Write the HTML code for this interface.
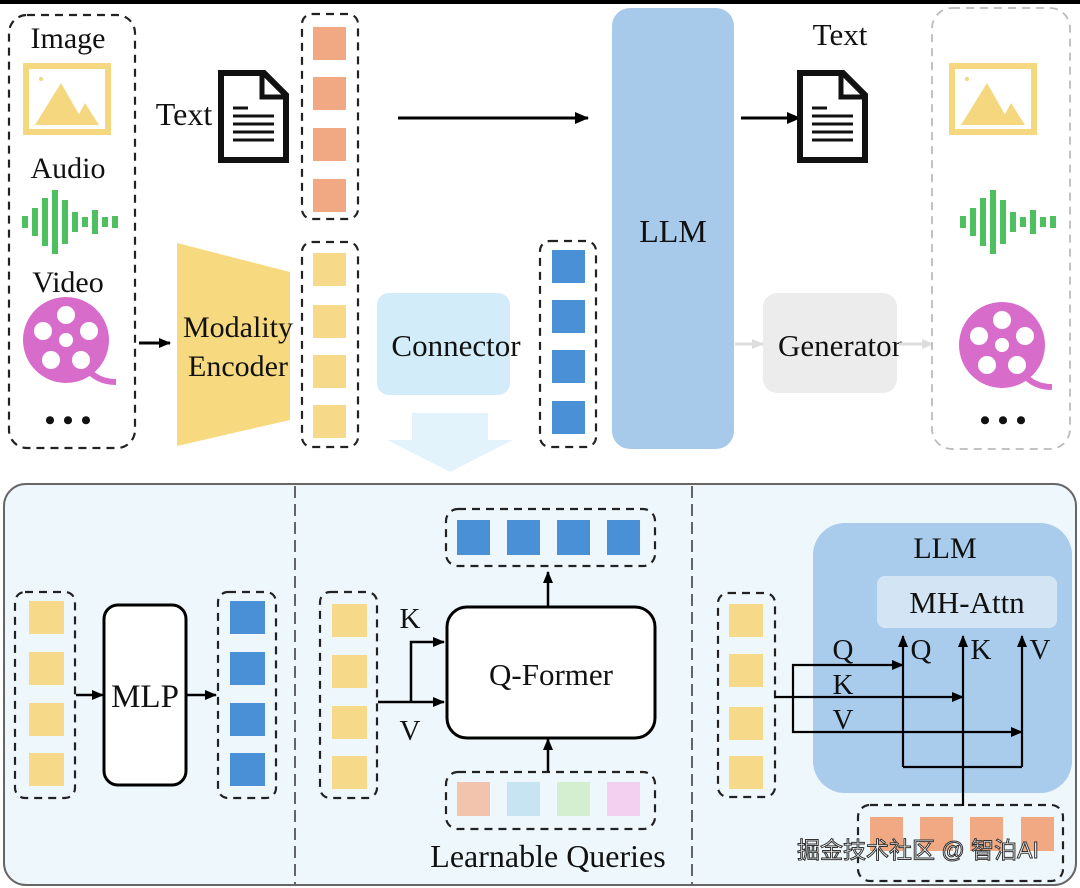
<!DOCTYPE html>
<html><head><meta charset="utf-8"><style>
html,body{margin:0;padding:0;background:#fff;}
svg{display:block;}
text{font-family:"Liberation Serif",serif;fill:#111;}
</style></head><body>
<svg width="1080" height="888" viewBox="0 0 1080 888" xmlns="http://www.w3.org/2000/svg">
<defs>
<marker id="ah" markerWidth="12" markerHeight="10" refX="11" refY="5" orient="auto" markerUnits="userSpaceOnUse"><path d="M0,0 L12,5 L0,10 z" fill="#000"/></marker>
<marker id="ahb" markerWidth="14" markerHeight="12" refX="13" refY="6" orient="auto" markerUnits="userSpaceOnUse"><path d="M0,0 L14,6 L0,12 z" fill="#000"/></marker>
<marker id="ahg" markerWidth="12" markerHeight="10" refX="11" refY="5" orient="auto" markerUnits="userSpaceOnUse"><path d="M0,0 L12,5 L0,10 z" fill="#ddd"/></marker>
<clipPath id="panel"><rect x="4" y="484" width="1072" height="401" rx="22"/></clipPath>
<g id="img"><rect x="3" y="3" width="82" height="66" fill="#fff" stroke="#f4d77e" stroke-width="6"/><path d="M12,62 L38,20 L58,55 L52,62z" fill="#f4d77e"/><path d="M50,62 L62,40 L76,62z" fill="#f4d77e"/><circle cx="18" cy="16" r="2" fill="#f4d77e"/></g>
<g id="wave" fill="#4fc060"><rect x="0" y="26" width="6" height="12"/><rect x="10" y="18" width="6" height="28"/><rect x="20" y="8" width="6" height="48"/><rect x="30" y="0" width="6" height="64"/><rect x="40" y="10" width="6" height="44"/><rect x="50" y="22" width="6" height="20"/><rect x="60" y="27" width="6" height="10"/><rect x="70" y="20" width="6" height="24"/><rect x="80" y="27" width="6" height="10"/><rect x="90" y="26" width="6" height="12"/></g>
<g id="reel"><circle cx="0" cy="0" r="43" fill="#d86ccb"/><circle cx="0" cy="-25" r="9" fill="#fff"/><circle cx="-23" cy="-9" r="9" fill="#fff"/><circle cx="23" cy="-9" r="9" fill="#fff"/><circle cx="-15" cy="20" r="9" fill="#fff"/><circle cx="15" cy="20" r="9" fill="#fff"/><circle cx="0" cy="0" r="7" fill="#fff"/><path d="M25,33 Q35,42 50,42" stroke="#d86ccb" stroke-width="6" fill="none"/></g>
<g id="doc"><path d="M3,3 L46,3 L68,25 L68,90 L3,90 Z" fill="#fff" stroke="#111" stroke-width="6"/><path d="M44,3 L44,27 L68,27" fill="none" stroke="#111" stroke-width="5"/><g stroke="#111" stroke-width="3"><line x1="15" y1="38" x2="30" y2="38"/><line x1="15" y1="46" x2="56" y2="46"/><line x1="15" y1="54" x2="56" y2="54"/><line x1="15" y1="62" x2="56" y2="62"/><line x1="15" y1="70" x2="56" y2="70"/></g></g>
</defs>
<rect x="0" y="0" width="1080" height="4" fill="#000"/>

<rect x="9" y="15" width="126" height="433" rx="18" fill="#fff" stroke="#222" stroke-width="2.2" stroke-dasharray="8,6"/>
<text x="68" y="48" font-size="30" text-anchor="middle">Image</text>
<use href="#img" x="23" y="63"/>
<text x="68" y="178" font-size="30" text-anchor="middle">Audio</text>
<use href="#wave" x="22" y="190"/>
<text x="68" y="292" font-size="30" text-anchor="middle">Video</text>
<use href="#reel" x="66" y="340"/>
<text x="68" y="430" font-size="30" text-anchor="middle" font-weight="bold">• • •</text>

<text x="184" y="125" font-size="32" text-anchor="middle">Text</text>
<use href="#doc" x="218" y="70"/>

<rect x="302" y="14" width="56" height="205" rx="10" fill="#fff" stroke="#222" stroke-width="2.2" stroke-dasharray="8,6"/>
<g fill="#f0a983"><rect x="313" y="27" width="33" height="33"/><rect x="313" y="77" width="33" height="33"/><rect x="313" y="128" width="33" height="33"/><rect x="313" y="179" width="33" height="33"/></g>
<line x1="398" y1="118" x2="588" y2="118" stroke="#000" stroke-width="3" marker-end="url(#ahb)"/>

<line x1="139" y1="343" x2="170" y2="343" stroke="#000" stroke-width="3" marker-end="url(#ah)"/>
<path d="M177,243 L290,272 L290,420 L177,446 Z" fill="#f7d97f"/>
<text x="238" y="337" font-size="30" text-anchor="middle">Modality</text>
<text x="238" y="376" font-size="30" text-anchor="middle">Encoder</text>

<rect x="302" y="242" width="56" height="205" rx="10" fill="#fff" stroke="#222" stroke-width="2.2" stroke-dasharray="8,6"/>
<g fill="#f7d98a"><rect x="313" y="253" width="33" height="33"/><rect x="313" y="305" width="33" height="33"/><rect x="313" y="355" width="33" height="33"/><rect x="313" y="405" width="33" height="33"/></g>

<rect x="377" y="293" width="133" height="102" rx="12" fill="#d2ecf9"/>
<text x="456" y="356" font-size="31" text-anchor="middle">Connector</text>
<path d="M412,413 L488,413 L488,440 L513,440 L450,472 L387,440 L412,440 Z" fill="#e3f3fb"/>

<rect x="540" y="241" width="56" height="206" rx="10" fill="#fff" stroke="#222" stroke-width="2.2" stroke-dasharray="8,6"/>
<g fill="#4a90d6"><rect x="552" y="250" width="33" height="33"/><rect x="552" y="300" width="33" height="33"/><rect x="552" y="350" width="33" height="33"/><rect x="552" y="401" width="33" height="33"/></g>

<rect x="612" y="8" width="122" height="441" rx="18" fill="#a8caea"/>
<text x="673" y="242" font-size="32" text-anchor="middle">LLM</text>

<line x1="741" y1="118" x2="800" y2="118" stroke="#000" stroke-width="3" marker-end="url(#ahb)"/>
<text x="840" y="45" font-size="31" text-anchor="middle">Text</text>
<use href="#doc" x="797" y="70"/>

<line x1="735" y1="344" x2="763" y2="344" stroke="#ddd" stroke-width="3" marker-end="url(#ahg)"/>
<rect x="763" y="293" width="134" height="100" rx="14" fill="#ececec"/>
<text x="840" y="356" font-size="31" text-anchor="middle">Generator</text>
<line x1="899" y1="344" x2="933" y2="344" stroke="#ddd" stroke-width="3" marker-end="url(#ahg)"/>

<rect x="932" y="8" width="138" height="441" rx="20" fill="#fff" stroke="#bbb" stroke-width="1.8" stroke-dasharray="8,6"/>
<use href="#img" x="949" y="63"/>
<use href="#wave" x="960" y="190"/>
<use href="#reel" x="1002" y="345"/>
<text x="1003" y="430" font-size="30" text-anchor="middle" font-weight="bold">• • •</text>

<rect x="4" y="484" width="1072" height="401" rx="22" fill="#eef8fc" stroke="#666" stroke-width="2"/>
<line x1="295" y1="486" x2="295" y2="884" stroke="#333" stroke-width="1.5" stroke-dasharray="12,6"/>
<line x1="692" y1="486" x2="692" y2="884" stroke="#333" stroke-width="1.5" stroke-dasharray="12,6"/>

<rect x="15" y="592" width="60" height="206" rx="10" fill="none" stroke="#222" stroke-width="2.2" stroke-dasharray="8,6"/>
<g fill="#f7d98a"><rect x="29" y="601" width="35" height="33"/><rect x="29" y="652" width="35" height="33"/><rect x="29" y="703" width="35" height="33"/><rect x="29" y="753" width="35" height="33"/></g>
<line x1="76" y1="695" x2="103" y2="695" stroke="#000" stroke-width="2.5" marker-end="url(#ah)"/>
<rect x="104" y="605" width="82" height="180" rx="14" fill="#fff" stroke="#000" stroke-width="3"/>
<text x="145" y="707" font-size="33" text-anchor="middle">MLP</text>
<line x1="187" y1="695" x2="216" y2="695" stroke="#000" stroke-width="2.5" marker-end="url(#ah)"/>
<rect x="218" y="592" width="58" height="206" rx="10" fill="none" stroke="#222" stroke-width="2.2" stroke-dasharray="8,6"/>
<g fill="#4a90d6"><rect x="230" y="601" width="35" height="33"/><rect x="230" y="652" width="35" height="33"/><rect x="230" y="703" width="35" height="33"/><rect x="230" y="753" width="35" height="33"/></g>

<rect x="320" y="592" width="57" height="206" rx="10" fill="none" stroke="#222" stroke-width="2.2" stroke-dasharray="8,6"/>
<g fill="#f7d98a"><rect x="332" y="604" width="35" height="33"/><rect x="332" y="655" width="35" height="33"/><rect x="332" y="706" width="35" height="33"/><rect x="332" y="756" width="35" height="33"/></g>
<polyline points="378,702 444,702" fill="none" stroke="#000" stroke-width="2.5" marker-end="url(#ah)"/>
<polyline points="411,702 411,642 444,642" fill="none" stroke="#000" stroke-width="2.5" marker-end="url(#ah)"/>
<text x="410" y="628" font-size="29" text-anchor="middle">K</text>
<text x="410" y="740" font-size="29" text-anchor="middle">V</text>
<rect x="447" y="607" width="208" height="131" rx="20" fill="#fff" stroke="#000" stroke-width="3"/>
<text x="551" y="685" font-size="31" text-anchor="middle">Q-Former</text>
<line x1="548" y1="606" x2="548" y2="572" stroke="#000" stroke-width="2.5" marker-end="url(#ah)"/>
<rect x="446" y="509" width="209" height="57" rx="12" fill="none" stroke="#222" stroke-width="2.2" stroke-dasharray="8,6"/>
<g fill="#4a90d6"><rect x="457" y="520" width="33" height="35"/><rect x="507" y="520" width="33" height="35"/><rect x="557" y="520" width="33" height="35"/><rect x="607" y="520" width="33" height="35"/></g>
<line x1="548" y1="772" x2="548" y2="739" stroke="#000" stroke-width="2.5" marker-end="url(#ah)"/>
<rect x="446" y="772" width="209" height="57" rx="12" fill="none" stroke="#222" stroke-width="2.2" stroke-dasharray="8,6"/>
<rect x="457" y="782" width="33" height="34" fill="#f2c3ad"/><rect x="507" y="782" width="33" height="34" fill="#c6e4f2"/><rect x="557" y="782" width="33" height="34" fill="#d4efd0"/><rect x="607" y="782" width="33" height="34" fill="#f3d0ef"/>
<text x="548" y="867" font-size="32" text-anchor="middle">Learnable Queries</text>

<rect x="718" y="593" width="57" height="204" rx="10" fill="none" stroke="#222" stroke-width="2.2" stroke-dasharray="8,6"/>
<g fill="#f7d98a"><rect x="729" y="604" width="34" height="33"/><rect x="729" y="654" width="34" height="33"/><rect x="729" y="707" width="34" height="33"/><rect x="729" y="756" width="34" height="33"/></g>
<rect x="813" y="523" width="259" height="270" rx="32" fill="#a9cbec"/>
<text x="945" y="558" font-size="30" text-anchor="middle">LLM</text>
<rect x="877" y="576" width="180" height="52" rx="8" fill="#d3e5f5"/>
<text x="967" y="613" font-size="31" text-anchor="middle">MH-Attn</text>
<g stroke="#000" stroke-width="2.2" fill="none">
<polyline points="775,697 963,697" marker-end="url(#ah)"/>
<polyline points="793,697 793,665 903,665" marker-end="url(#ah)"/>
<polyline points="793,697 793,732 1022,732" marker-end="url(#ah)"/>
<polyline points="903,767 903,636" marker-end="url(#ah)"/>
<polyline points="963,806 963,636" marker-end="url(#ah)"/>
<polyline points="1022,767 1022,636" marker-end="url(#ah)"/>
<polyline points="903,767 1022,767"/>
</g>
<text x="843" y="659" font-size="29" text-anchor="middle">Q</text>
<text x="843" y="694" font-size="29" text-anchor="middle">K</text>
<text x="843" y="729" font-size="29" text-anchor="middle">V</text>
<text x="921" y="659" font-size="29" text-anchor="middle">Q</text>
<text x="981" y="659" font-size="29" text-anchor="middle">K</text>
<text x="1040" y="659" font-size="29" text-anchor="middle">V</text>
<g clip-path="url(#panel)">
<rect x="858" y="805" width="205" height="76" rx="12" fill="none" stroke="#222" stroke-width="2.2" stroke-dasharray="8,6"/>
<g fill="#f0a983"><rect x="870" y="817" width="33" height="34"/><rect x="920" y="817" width="33" height="34"/><rect x="970" y="817" width="33" height="34"/><rect x="1021" y="817" width="33" height="34"/></g>
</g>
<text x="797" y="858" font-size="23" style="font-family:'Liberation Sans','Noto Sans CJK SC',sans-serif;fill:#fff;stroke:#333;stroke-width:1">掘金技术社区 @ 智泊AI</text>
</svg>
</body></html>
